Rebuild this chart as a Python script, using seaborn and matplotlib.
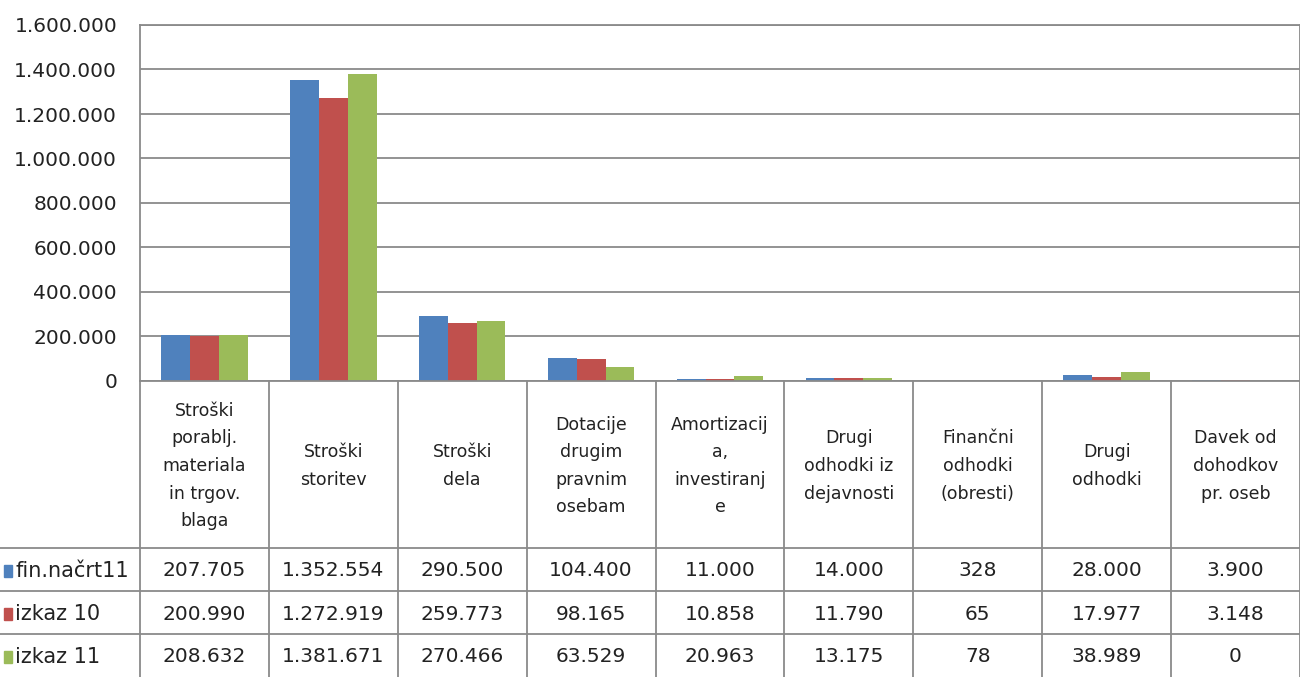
import pandas as pd
import matplotlib.pyplot as plt
import matplotlib.transforms as mtransforms
from matplotlib.lines import Line2D
from matplotlib.patches import Rectangle
from matplotlib.ticker import FuncFormatter
import seaborn as sns

# podatki
kategorije = ['Stroški\nporablj.\nmateriala\nin trgov.\nblaga', 'Stroški\nstoritev', 'Stroški\ndela',
              'Dotacije\ndrugim\npravnim\nosebam', 'Amortizacij\na,\ninvestiranj\ne',
              'Drugi\nodhodki iz\ndejavnosti', 'Finančni\nodhodki\n(obresti)', 'Drugi\nodhodki',
              'Davek od\ndohodkov\npr. oseb']
serije = ['fin.načrt11', 'izkaz 10', 'izkaz 11']
fin_nacrt11 = [207705, 1352554, 290500, 104400, 11000, 14000, 328, 28000, 3900]
izkaz10 = [200990, 1272919, 259773, 98165, 10858, 11790, 65, 17977, 3148]
izkaz11 = [208632, 1381671, 270466, 63529, 20963, 13175, 78, 38989, 0]
barve = ['#4F81BD', '#C0504D', '#9BBB59']

vrednosti = [fin_nacrt11, izkaz10, izkaz11]
df = pd.DataFrame({
    'kategorija': [k for _ in serije for k in range(len(kategorije))],
    'serija': [s for s in serije for _ in kategorije],
    'vrednost': [v for vr in vrednosti for v in vr],
})

W, H = 1300, 677
fig = plt.figure(figsize=(13, 6.77), dpi=100)
sns.set_style('white')
plt.rcParams['font.family'] = ['DejaVu Sans']

def fy(py):  # piksel od vrha -> delez figure
    return 1 - py / H

ax = fig.add_axes([140 / W, fy(381), 1160 / W, (381 - 25) / H])
sns.barplot(data=df, x='kategorija', y='vrednost', hue='serija', palette=barve,
            width=0.67, gap=0, saturation=1, linewidth=0, ax=ax, legend=False, errorbar=None)
ax.set_xlim(-0.5, len(kategorije) - 0.5)
ax.set_ylim(0, 1600000)
ax.set_yticks(range(0, 1600001, 200000))
ax.yaxis.set_major_formatter(FuncFormatter(lambda v, p: f'{int(v):,}'.replace(',', '.')))
ax.tick_params(axis='y', labelsize=14.5, colors='#222222', length=0, pad=16.5)
ax.set_xticks([])
ax.set_xlabel('')
ax.set_ylabel('')
ax.grid(axis='y', color='#8a8a8a', linewidth=1.3)
ax.set_axisbelow(True)
for s in ax.spines.values():
    s.set_color('#8a8a8a')
    s.set_linewidth(1.3)

# tabela s podatki
trans = mtransforms.blended_transform_factory(ax.transData, fig.transFigure)
crta = '#8a8a8a'
for i in range(len(kategorije) + 1):
    fig.add_artist(Line2D([i - 0.5, i - 0.5], [fy(381), 0], transform=trans, color=crta, lw=1.3))
for py in [548, 591, 634]:
    fig.add_artist(Line2D([0, 1], [fy(py), fy(py)], transform=fig.transFigure, color=crta, lw=1.3))

for i, k in enumerate(kategorije):
    fig.text(i, fy(466), k, transform=trans, ha='center', va='center', fontsize=12.5,
             color='#222222', linespacing=1.68)

vrstice_y = [571, 614, 657]
for r, (s, vr) in enumerate(zip(serije, vrednosti)):
    fig.add_artist(Rectangle((4 / W, fy(vrstice_y[r] + 6)), 8 / W, 12 / H,
                             transform=fig.transFigure, color=barve[r]))
    fig.text(15 / W, fy(vrstice_y[r]), s, ha='left', va='center', fontsize=15, color='#222222')
    for i, v in enumerate(vr):
        fig.text(i, fy(vrstice_y[r]), f'{v:,}'.replace(',', '.'), transform=trans,
                 ha='center', va='center', fontsize=14.5, color='#222222')

fig.savefig('out.png', dpi=100)
